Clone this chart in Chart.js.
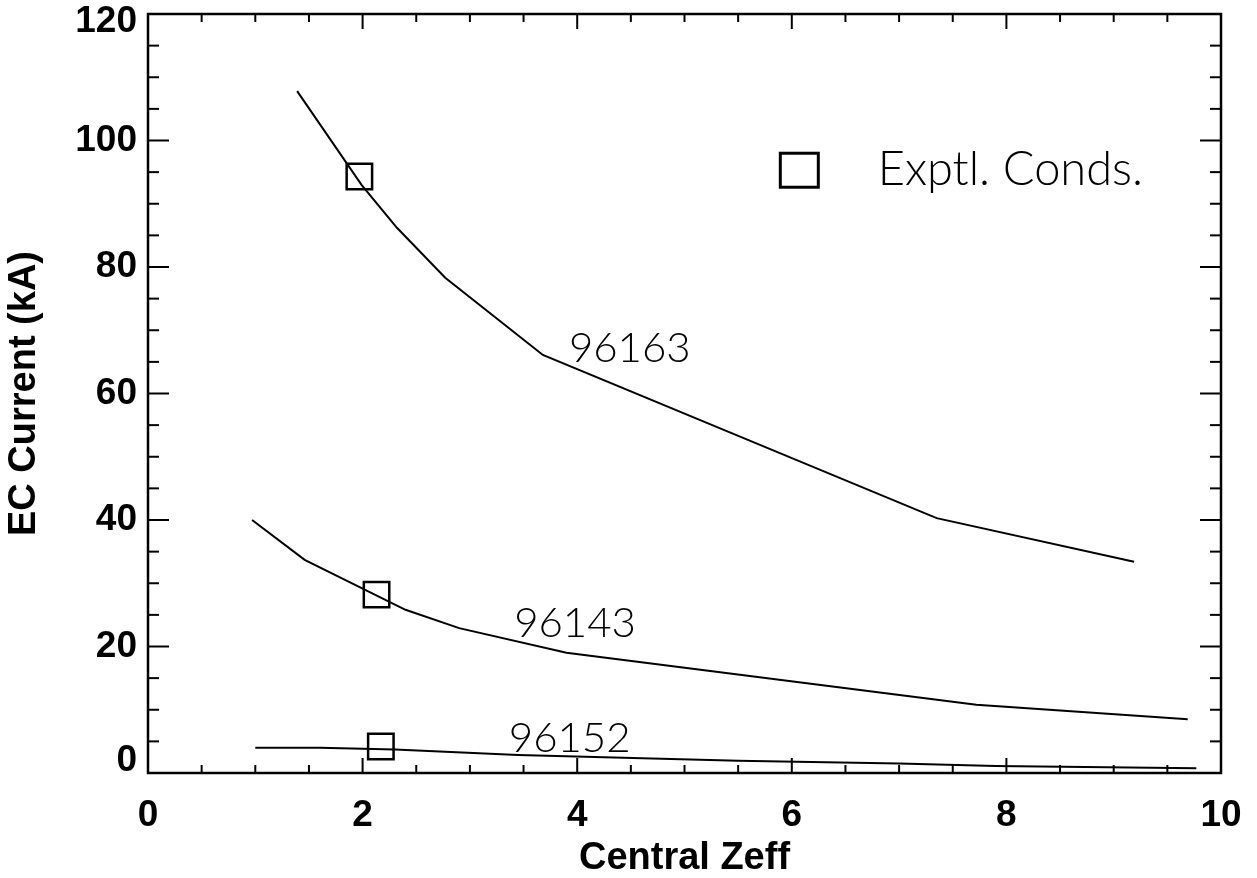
<!DOCTYPE html>
<html>
<head>
<meta charset="utf-8">
<title>EC Current vs Central Zeff</title>
<script src="https://cdn.jsdelivr.net/npm/chart.js@4.4.1/dist/chart.umd.min.js"></script>
<style>
  body { margin: 0; background: #fff; }
  canvas { display: block; }
</style>
</head>
<body>
<canvas id="myChart" width="1257" height="878"></canvas>
<script>
// model curves, one per shot
var zeff96163 = [1.39, 1.99, 2.32, 2.77, 3.68, 7.35, 9.19];
var ec96163   = [107.8, 93.0, 86.2, 78.3, 66.1, 40.3, 33.4];

var zeff96143 = [0.97, 1.46, 2.40, 2.90, 3.90, 7.72, 9.69];
var ec96143   = [40.0, 33.7, 25.8, 22.9, 19.0, 10.8, 8.5];

var zeff96152 = [1.00, 1.60, 2.30, 3.45, 5.50, 7.00, 7.90, 9.77];
var ec96152   = [4.0, 4.0, 3.7, 2.85, 1.95, 1.5, 1.1, 0.75];

// experimental conditions
var exptlZeff = [1.97, 2.13, 2.17];
var exptlEc   = [94.3, 28.2, 4.2];

var shotNames = ['96163', '96143', '96152'];
var legendText = 'Exptl. Conds.';

var xMin = 0, xMax = 10, xStep = 2;
var yMin = 0, yMax = 120, yStep = 20;

function toPoints(xs, ys) {
   return xs.map(function(x, i) {
      return { x: x, y: ys[i] };
   });
}

function curve(xs, ys) {
   return {
      data: toPoints(xs, ys),
      showLine: true,
      borderColor: '#000',
      borderWidth: 2,
      pointRadius: 0,
      tension: 0,
      fill: false
   };
}

// anchors in data units for the written notes
var notes = [
   { text: shotNames[0], x: 4.49, y: 67.2 },
   { text: shotNames[1], x: 3.98, y: 23.6 },
   { text: shotNames[2], x: 3.93, y: 5.4 }
];
var legendAt = { x: 6.07, y: 95.3, textX: 6.8 };

var handFont = '300 42px Lato, "Noto Sans", sans-serif';
var legendFont = '300 47px Lato, "Noto Sans", sans-serif';
var tickFontCss = 'bold 37px "Liberation Sans", Arial, sans-serif';

// closed frame with inward ticks on all four sides
var frameTicks = {
   id: 'frameTicks',
   afterDraw: function(chart) {
      var ctx = chart.ctx, a = chart.chartArea;
      var xs = chart.scales.x, ys = chart.scales.y;
      function seg(x1, y1, x2, y2) {
         ctx.beginPath();
         ctx.moveTo(x1, y1);
         ctx.lineTo(x2, y2);
         ctx.stroke();
      }
      ctx.save();
      ctx.strokeStyle = '#000';
      ctx.lineWidth = 2.5;
      ctx.strokeRect(a.left, a.top, a.right - a.left, a.bottom - a.top);
      ctx.lineWidth = 2;
      var v, p, len;
      for (v = xMin; v <= xMax + 1e-6; v += 0.5) {
         p = xs.getPixelForValue(v);
         len = Math.abs(v / xStep - Math.round(v / xStep)) < 1e-6 ? 15 : 8;
         seg(p, a.bottom, p, a.bottom - len);
         seg(p, a.top, p, a.top + len);
      }
      for (v = yMin; v <= yMax + 1e-6; v += 5) {
         p = ys.getPixelForValue(v);
         len = v % yStep === 0 ? 21 : 11;
         seg(a.left, p, a.left + len, p);
         seg(a.right, p, a.right - len, p);
      }

      // y labels: the end ones are pulled inside the axis span
      ctx.fillStyle = '#000';
      ctx.font = tickFontCss;
      ctx.textAlign = 'right';
      ctx.textBaseline = 'middle';
      ys.ticks.forEach(function(t) {
         var py = ys.getPixelForValue(t.value);
         if (t.value === yMax) py += 8;
         if (t.value === yMin) py -= 12;
         ctx.fillText(String(t.value), ys.right - 11, py);
      });
      ctx.restore();
   }
};

var notesPlugin = {
   id: 'notes',
   afterDraw: function(chart) {
      var ctx = chart.ctx;
      var xs = chart.scales.x, ys = chart.scales.y;
      ctx.save();
      ctx.fillStyle = '#000';
      ctx.strokeStyle = '#000';
      ctx.font = handFont;
      ctx.textBaseline = 'middle';
      ctx.textAlign = 'center';
      notes.forEach(function(n) {
         ctx.fillText(n.text, xs.getPixelForValue(n.x), ys.getPixelForValue(n.y));
      });
      // legend key
      var lx = xs.getPixelForValue(legendAt.x), ly = ys.getPixelForValue(legendAt.y);
      ctx.lineWidth = 3;
      ctx.strokeRect(lx - 19, ly - 17, 38, 34);
      ctx.font = legendFont;
      ctx.textAlign = 'left';
      ctx.fillText(legendText, xs.getPixelForValue(legendAt.textX), ly);
      ctx.restore();
   }
};

function noPad(s) {
   s.paddingTop = 0;
   s.paddingBottom = 0;
   s.paddingLeft = 0;
   s.paddingRight = 0;
}

var tickFont = { family: '"Liberation Sans", Arial, sans-serif', size: 37, weight: 'bold', lineHeight: 0.7 };
var titleFont = { family: '"Liberation Sans", Arial, sans-serif', size: 38, weight: 'bold', lineHeight: 1 };

var ctx = document.getElementById('myChart').getContext('2d');
var chart = new Chart(ctx, {
   type: 'scatter',
   data: {
      datasets: [
         curve(zeff96163, ec96163),
         curve(zeff96143, ec96143),
         curve(zeff96152, ec96152),
         {
            data: toPoints(exptlZeff, exptlEc),
            showLine: false,
            pointStyle: 'rect',
            pointRadius: 18,
            pointHoverRadius: 18,
            pointBorderWidth: 2.5,
            pointBorderColor: '#000',
            pointBackgroundColor: 'rgba(0,0,0,0)'
         }
      ]
   },
   options: {
      responsive: false,
      animation: false,
      devicePixelRatio: 1,
      layout: { autoPadding: false, padding: { top: 14, right: 36, left: 0, bottom: 0 } },
      plugins: {
         legend: { display: false },
         tooltip: { enabled: false }
      },
      scales: {
         x: {
            type: 'linear',
            min: xMin,
            max: xMax,
            grid: { display: false, drawTicks: false },
            border: { display: false },
            ticks: { stepSize: xStep, color: '#000', font: tickFont, padding: 30, maxRotation: 0 },
            title: { display: true, text: 'Central Zeff', color: '#000', font: titleFont, padding: 0 },
            afterFit: function(s) { s.height = 105; noPad(s); }
         },
         y: {
            type: 'linear',
            min: yMin,
            max: yMax,
            grid: { display: false, drawTicks: false },
            border: { display: false },
            ticks: { display: false, stepSize: yStep },
            title: { display: true, text: 'EC Current (kA)', color: '#000', font: titleFont, padding: { top: 6, bottom: 0 } },
            afterFit: function(s) { s.width = 148; noPad(s); }
         }
      }
   },
   plugins: [frameTicks, notesPlugin]
});
</script>
</body>
</html>
